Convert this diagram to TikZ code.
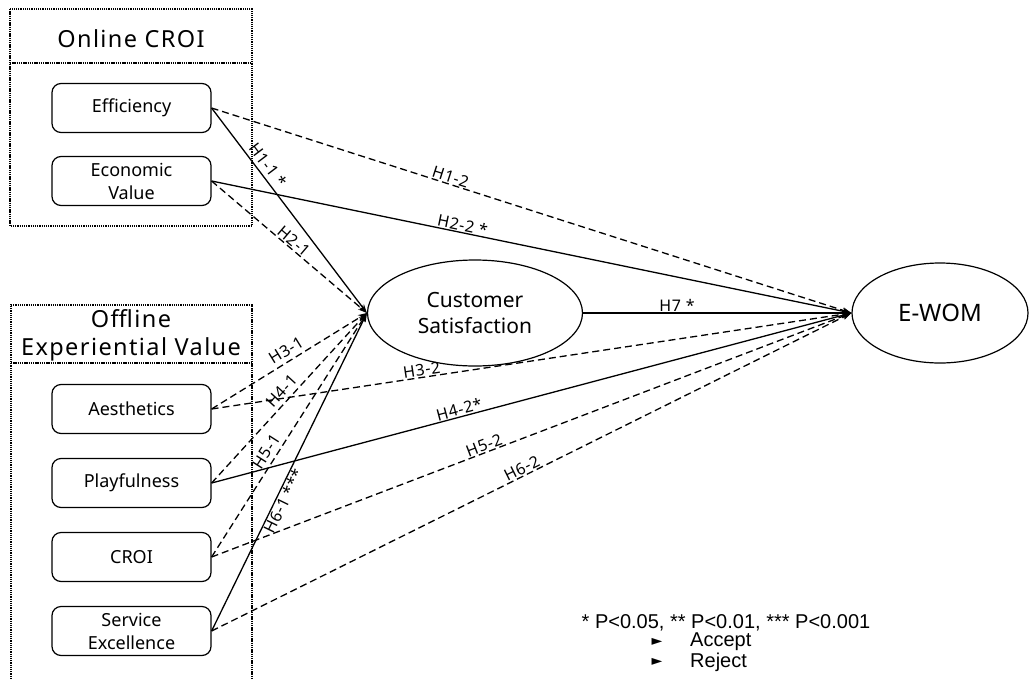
\documentclass[tikz,border=0pt]{standalone}
\usepackage{fontspec}
\setmainfont{Noto Sans}
\newfontfamily\titlefont[LetterSpace=6]{Noto Sans}
\newfontfamily\labfont[LetterSpace=4]{Noto Sans}
\newfontfamily\legfont{Liberation Sans}
\newfontfamily\symfont{DejaVu Sans}
\usetikzlibrary{shapes.geometric,arrows.meta}
\begin{document}
\begin{tikzpicture}[x=1pt,y=-1pt,
  groupbox/.style={line width=1.4pt, dash pattern=on 1.3pt off 0.9pt},
  itembox/.style={draw, line width=1.2pt, rounded corners=9pt, minimum width=159pt, minimum height=49pt, align=center, font=\fontsize{18}{23}\selectfont, inner sep=0pt},
  latent/.style={draw, ellipse, line width=1.2pt, align=center, inner sep=0pt},
  accepted/.style={line width=1.3pt, -{Stealth[length=9pt,width=6pt]}},
  rejected/.style={line width=1.3pt, dash pattern=on 7pt off 4pt, -{Stealth[length=9pt,width=6pt]}},
  lab/.style={sloped, above, inner sep=1pt, font=\labfont\fontsize{16}{18}\selectfont},
  labfar/.style={sloped, above=3pt, inner sep=1pt, font=\labfont\fontsize{16}{18}\selectfont},
  labb/.style={sloped, below, inner sep=1pt, font=\labfont\fontsize{16}{18}\selectfont},
  grouptitle/.style={font=\titlefont\fontsize{23.5}{28}\selectfont, align=center, inner sep=0pt}
]
\useasboundingbox (0,0) rectangle (1031,678);

% group boxes
\draw[groupbox] (10,9) rectangle (252,226);
\draw[groupbox] (10,63) -- (252,63);
\node[grouptitle] (ttl1) at (131,39) {Online CROI};

\draw[groupbox] (11,690) -- (11,305) -- (252,305) -- (252,690);
\draw[groupbox] (11,363) -- (252,363);
\node[grouptitle] (ttl2) at (131,335) {Offline\\Experiential Value};

% observed variables
\node[itembox] (eff) at (131.5,108) {Efficiency};
\node[itembox] (eco) at (131.5,181) {Economic\\Value};
\node[itembox] (aes) at (131.5,409) {Aesthetics};
\node[itembox] (pla) at (131.5,483) {Playfulness};
\node[itembox] (cro) at (131.5,557) {CROI};
\node[itembox] (ser) at (131.5,631) {Service\\Excellence};

% latent variables
\node[latent, minimum width=215pt, minimum height=106pt, font=\fontsize{21}{26}\selectfont] (cs) at (475,313) {Customer\\Satisfaction};
\node[latent, minimum width=176pt, minimum height=100pt, font=\fontsize{24}{28}\selectfont] (ewom) at (940,313) {E-WOM};

% paths to customer satisfaction
\draw[accepted] (eff.east) -- node[labfar, pos=0.31] {H1-1 *} (cs.west);
\draw[rejected] (eco.east) -- node[lab, pos=0.5] {H2-1} (cs.west);
\draw[rejected] (aes.east) -- node[labfar, pos=0.52] {H3-1} (cs.west);
\draw[rejected] (pla.east) -- node[labfar, pos=0.5] {H4-1} (cs.west);
\draw[rejected] (cro.east) -- node[labfar, pos=0.41] {H5-1} (cs.west);
\draw[accepted] (ser.east) -- node[labb, pos=0.42] {H6-1 ***} (cs.west);

% paths to E-WOM
\draw[rejected] (eff.east) -- node[lab, pos=0.37] {H1-2} (ewom.west);
\draw[accepted] (eco.east) -- node[lab, pos=0.39] {H2-2 *} (ewom.west);
\draw[rejected] (aes.east) -- node[lab, pos=0.33] {H3-2} (ewom.west);
\draw[accepted] (pla.east) -- node[lab, pos=0.39] {H4-2*} (ewom.west);
\draw[rejected] (cro.east) -- node[lab, pos=0.43] {H5-2} (ewom.west);
\draw[rejected] (ser.east) -- node[lab, pos=0.49] {H6-2} (ewom.west);
\draw[accepted] (cs.east) -- node[lab, pos=0.35] {H7 *} (ewom.west);

% legend
\node[font=\legfont\fontsize{20}{22}\selectfont, inner sep=0pt] (leg) at (726,623) {* P<0.05, ** P<0.01, *** P<0.001};
\node[font=\symfont\fontsize{14}{16}\selectfont, inner sep=0pt] (tria) at (657,642) {►};
\node[font=\symfont\fontsize{14}{16}\selectfont, inner sep=0pt] (trir) at (657,662) {►};
\node[font=\legfont\fontsize{20}{22}\selectfont, inner sep=0pt, anchor=west] (acc) at (690,642) {Accept};
\node[font=\legfont\fontsize{20}{22}\selectfont, inner sep=0pt, anchor=west] (rej) at (690,662) {Reject};
\end{tikzpicture}
\end{document}
